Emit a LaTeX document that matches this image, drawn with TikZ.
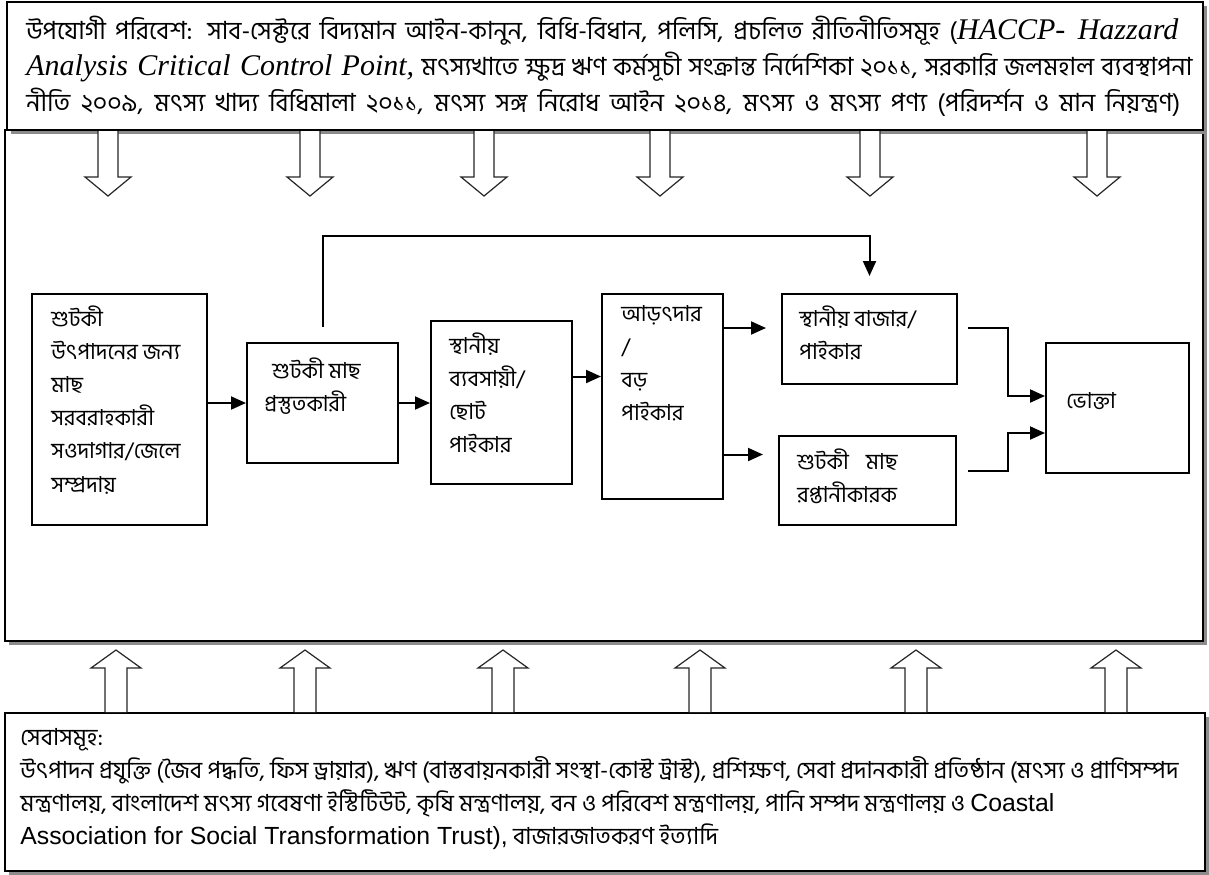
\documentclass[tikz,border=0pt]{standalone}
\usepackage{fontspec}
\setmainfont{Liberation Serif}
\newfontfamily\bn[Script=Bengali]{Hind Siliguri}
\newfontfamily\arial{Liberation Sans}
\usetikzlibrary{arrows.meta,fit,shadows}

\tikzset{
  frame/.style={draw, line width=1pt, fill=white, inner sep=0pt,
    drop shadow={opacity=1, fill=black!45, shadow xshift=2pt, shadow yshift=-2pt}},
  stage/.style={draw, line width=1pt, inner sep=0pt},
  txt/.style={anchor=north west, inner sep=0pt, align=left,
    font=\bn\fontsize{11}{16.6}\selectfont},
  flow/.style={line width=1pt, -{Triangle[length=7.5pt,width=6.5pt]}},
  hollow/.style={line width=0.6pt, draw=black!85, fill=white},
}
\newcommand\lat[1]{{\rmfamily\itshape\fontsize{15}{18}\selectfont #1}}

\begin{document}
\begin{tikzpicture}[x=0.5pt, y=-0.5pt]
  \useasboundingbox (0,0) rectangle (1209,874);

  % outer frames
  \node[frame, fit={(5,130) (1203,641)}] (chain) {};
  \node[frame, fit={(7,2) (1203,130)}] (env) {};
  \node[frame, fit={(5,713) (1205,871)}] (serv) {};

  \node[txt, font=\bn\fontsize{12.5}{18}\selectfont] (envtxt) at ([xshift=10pt,yshift=-7.5pt]env.north west)
    {\makebox[576pt][s]{উপযোগী পরিবেশ: সাব-সেক্টরে বিদ্যমান আইন-কানুন, বিধি-বিধান, পলিসি, প্রচলিত রীতিনীতিসমূহ (\lat{HACCP- Hazzard}}\\
     \makebox[583pt][s]{\lat{Analysis Critical Control Point,} মৎস্যখাতে ক্ষুদ্র ঋণ কর্মসূচী সংক্রান্ত নির্দেশিকা ২০১১, সরকারি জলমহাল ব্যবস্থাপনা}\\
     \makebox[577pt][s]{নীতি ২০০৯, মৎস্য খাদ্য বিধিমালা ২০১১, মৎস্য সঙ্গ নিরোধ আইন ২০১৪, মৎস্য ও মৎস্য পণ্য (পরিদর্শন ও মান নিয়ন্ত্রণ)}};

  \node[txt, font=\bn\fontsize{11.75}{16.5}\selectfont] (servtxt) at ([xshift=8pt,yshift=-8pt]serv.north west)
    {সেবাসমূহ:\\
     উৎপাদন প্রযুক্তি (জৈব পদ্ধতি, ফিস ড্রায়ার), ঋণ (বাস্তবায়নকারী সংস্থা-কোস্ট ট্রাস্ট), প্রশিক্ষণ, সেবা প্রদানকারী প্রতিষ্ঠান (মৎস্য ও প্রাণিসম্পদ\\
     মন্ত্রণালয়, বাংলাদেশ মৎস্য গবেষণা ইস্টিটিউট, কৃষি মন্ত্রণালয়, বন ও পরিবেশ মন্ত্রণালয়, পানি সম্পদ মন্ত্রণালয় ও {\arial\fontsize{12.4}{16.5}\selectfont Coastal}\\
     {\arial\fontsize{12.4}{16.5}\selectfont Association for Social Transformation Trust),} বাজারজাতকরণ ইত্যাদি};

  % hollow arrows
  \foreach \cx in {108,310,484,660,870,1097}
    \draw[hollow] (\cx-10,131) -- (\cx-10,177) -- (\cx-23,177) -- (\cx,196)
      -- (\cx+23,177) -- (\cx+10,177) -- (\cx+10,131);
  \foreach \cx in {116,305,503,700,916,1116}
    \draw[hollow] (\cx-11,712) -- (\cx-11,668) -- (\cx-25,668) -- (\cx,650)
      -- (\cx+25,668) -- (\cx+11,668) -- (\cx+11,712);

  % stages
  \node[stage, fit={(32,294) (207,525)}] (src) {};
  \node[stage, fit={(247,343) (398,463)}] (dry) {};
  \node[stage, fit={(431,321) (572,484)}] (trader) {};
  \node[stage, fit={(602,294) (723,499)}] (arot) {};
  \node[stage, fit={(782,294) (957,384)}] (market) {};
  \node[stage, fit={(779,436) (956,525)}] (export) {};
  \node[stage, fit={(1046,343) (1189,473)}] (consumer) {};

  \node[txt] (srctxt) at ([xshift=10pt,yshift=-6pt]src.north west)
    {শুটকী\\উৎপাদনের জন্য\\মাছ\\সরবরাহকারী\\সওদাগার/জেলে\\সম্প্রদায়};
  \node[txt] (drytxt) at ([xshift=9pt,yshift=-7.5pt]dry.north west)
    {\hspace{4pt}শুটকী মাছ\\প্রস্তুতকারী};
  \node[txt] (tradertxt) at ([xshift=9.5pt,yshift=-6pt]trader.north west)
    {স্থানীয়\\ব্যবসায়ী/\\ছোট\\পাইকার};
  \node[txt] (arottxt) at ([xshift=10pt,yshift=-6pt]arot.north west)
    {আড়ৎদার\\/\\বড়\\পাইকার};
  \node[txt] (markettxt) at ([xshift=9pt,yshift=-6pt]market.north west)
    {স্থানীয় বাজার/\\পাইকার};
  \node[txt] (exporttxt) at ([xshift=9.5pt,yshift=-6.5pt]export.north west)
    {শুটকী\hspace{6pt} মাছ\\রপ্তানীকারক};
  \node[txt] (consumertxt) at ([xshift=10.5pt,yshift=-25pt]consumer.north west)
    {ভোক্তা};

  % flows
  \coordinate (bend) at (600,236);
  \draw[flow] (src.east |- dry.west) -- (dry.west);
  \draw[flow] (dry.east) -- (dry.east -| trader.west);
  \draw[flow] ([yshift=13pt]trader.east) -- ([yshift=13pt]trader.east -| arot.west);
  \draw[flow, shorten >=7.5pt] ([yshift=5.5pt]arot.east |- market.west) -- ([yshift=5.5pt]market.west);
  \draw[flow, shorten >=7.5pt] ([yshift=13pt]export.west -| arot.east) -- ([yshift=13pt]export.west);
  \draw[flow] ([xshift=5pt,yshift=5.5pt]market.east) -- ++(20pt,0) |- ([yshift=6pt]consumer.west);
  \draw[flow] ([xshift=5.5pt,yshift=4.75pt]export.east) -- ++(20pt,0) |- ([yshift=-12.5pt]consumer.west);
  \draw[flow, shorten <=7.5pt, shorten >=8.5pt] (dry.north) |- (bend) -| (market.north);
\end{tikzpicture}
\end{document}
